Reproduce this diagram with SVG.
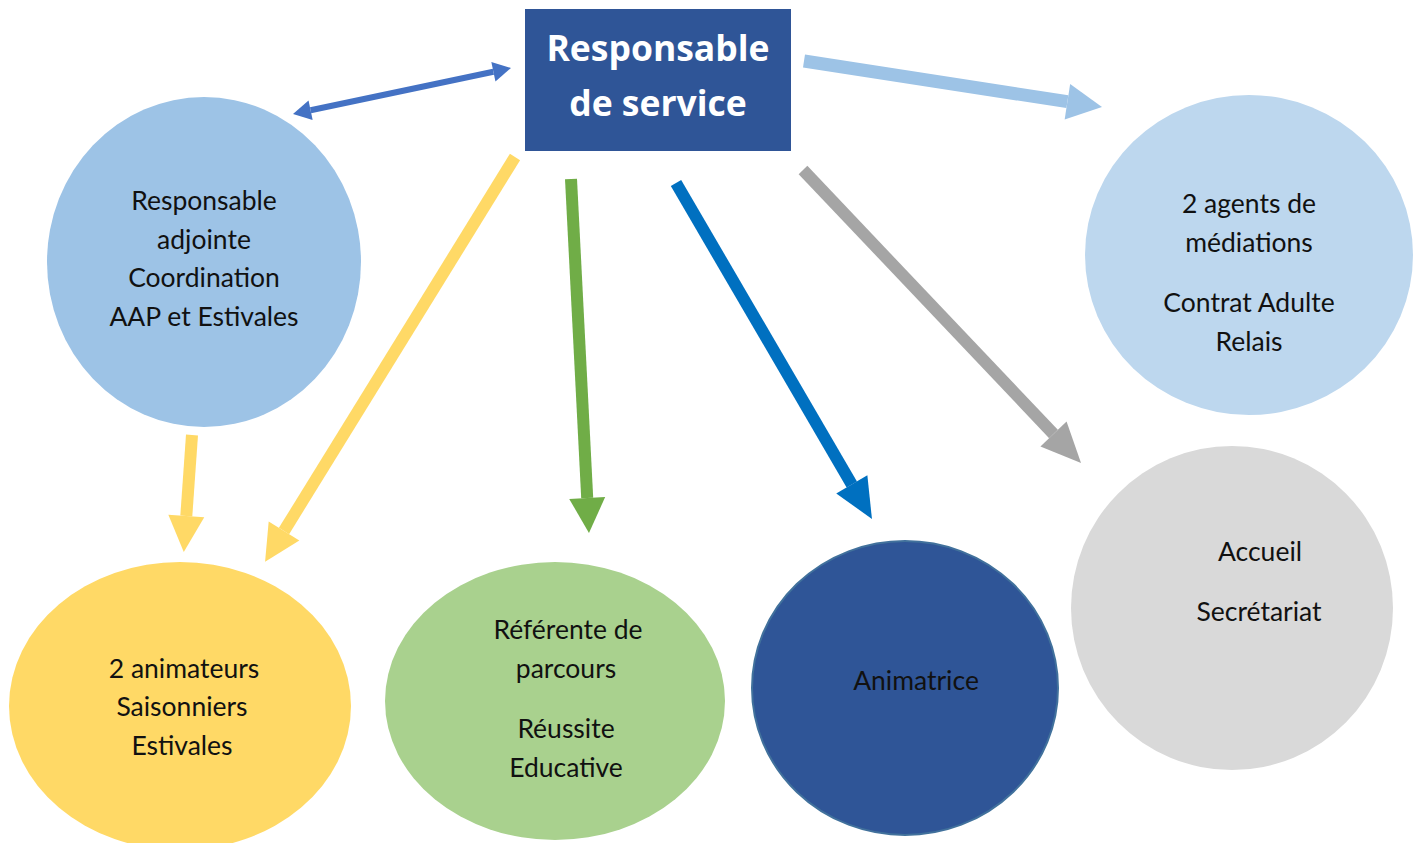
<svg xmlns="http://www.w3.org/2000/svg" width="1419" height="843" viewBox="0 0 1419 843">
<style>
.t{font-family:Lato,"Open Sans","Liberation Sans",sans-serif;font-size:26.5px;fill:#111;text-anchor:middle}
.h{font-family:"Open Sans",Lato,"Liberation Sans",sans-serif;font-size:35.5px;font-weight:bold;fill:#fff;text-anchor:middle}
.c{fill:none;stroke-linecap:butt}
</style>
<defs>
<marker id="mB" markerUnits="userSpaceOnUse" markerWidth="40" markerHeight="40" refX="0" refY="0" orient="auto-start-reverse" overflow="visible"><path d="M0,-10 L18,0 L0,10 Z" fill="#4472C4"/></marker>
<marker id="mL" markerUnits="userSpaceOnUse" markerWidth="40" markerHeight="40" refX="0" refY="0" orient="auto" overflow="visible"><path d="M0,-18 L35,0 L0,18 Z" fill="#9DC3E6"/></marker>
<marker id="mY" markerUnits="userSpaceOnUse" markerWidth="40" markerHeight="40" refX="0" refY="0" orient="auto" overflow="visible"><path d="M0,-18 L36,0 L0,18 Z" fill="#FFD966"/></marker>
<marker id="mG" markerUnits="userSpaceOnUse" markerWidth="40" markerHeight="40" refX="0" refY="0" orient="auto" overflow="visible"><path d="M0,-18 L35,0 L0,18 Z" fill="#70AD47"/></marker>
<marker id="mD" markerUnits="userSpaceOnUse" markerWidth="40" markerHeight="40" refX="0" refY="0" orient="auto" overflow="visible"><path d="M0,-18 L40,0 L0,18 Z" fill="#0070C0"/></marker>
<marker id="mA" markerUnits="userSpaceOnUse" markerWidth="40" markerHeight="40" refX="0" refY="0" orient="auto" overflow="visible"><path d="M0,-18 L40,0 L0,18 Z" fill="#A5A5A5"/></marker>
</defs>
<rect width="1419" height="843" fill="#fff"/>

<g id="n-adjointe">
<ellipse cx="204" cy="262" rx="157" ry="165" fill="#9DC3E6"/>
<text class="t" x="204" y="210">Responsable</text>
<text class="t" x="204" y="249">adjointe</text>
<text class="t" x="204" y="287">Coordination</text>
<text class="t" x="204" y="326">AAP et Estivales</text>
</g>
<g id="n-mediation">
<ellipse cx="1249" cy="255" rx="164" ry="160" fill="#BDD7EE"/>
<text class="t" x="1249" y="213">2 agents de</text>
<text class="t" x="1249" y="252">médiations</text>
<text class="t" x="1249" y="312">Contrat Adulte</text>
<text class="t" x="1249" y="351">Relais</text>
</g>
<g id="n-accueil">
<ellipse cx="1232" cy="608" rx="161" ry="162" fill="#D9D9D9"/>
<text class="t" x="1260" y="561">Accueil</text>
<text class="t" x="1259" y="621">Secrétariat</text>
</g>
<g id="n-animateurs">
<ellipse cx="180" cy="706" rx="171" ry="144" fill="#FFD966"/>
<text class="t" x="184" y="678">2 animateurs</text>
<text class="t" x="182" y="716">Saisonniers</text>
<text class="t" x="182" y="755">Estivales</text>
</g>
<g id="n-referente">
<ellipse cx="555" cy="701" rx="170" ry="139" fill="#A9D18E"/>
<text class="t" x="568" y="639">Référente de</text>
<text class="t" x="566" y="678">parcours</text>
<text class="t" x="566" y="738">Réussite</text>
<text class="t" x="566" y="777">Educative</text>
</g>
<g id="n-animatrice">
<ellipse cx="905" cy="688" rx="153" ry="147" fill="#2F5597" stroke="#41719C" stroke-width="2"/>
<text class="t" x="916" y="690">Animatrice</text>
</g>
<g id="n-responsable">
<rect x="525" y="9" width="266" height="142" fill="#2F5597"/>
<text class="h" x="658" y="61">Responsable</text>
<text class="h" x="658" y="116">de service</text>
</g>

<g id="connectors">
<line class="c" x1="310.6" y1="110.3" x2="493.4" y2="71.7" stroke="#4472C4" stroke-width="6" marker-start="url(#mB)" marker-end="url(#mB)"/>
<line class="c" x1="804" y1="61" x2="1067.4" y2="101.7" stroke="#9DC3E6" stroke-width="13" marker-end="url(#mL)"/>
<line class="c" x1="192" y1="435" x2="186.3" y2="516" stroke="#FFD966" stroke-width="12" marker-end="url(#mY)"/>
<line class="c" x1="515" y1="157" x2="284" y2="531" stroke="#FFD966" stroke-width="12" marker-end="url(#mY)"/>
<line class="c" x1="571" y1="179" x2="587.2" y2="498" stroke="#70AD47" stroke-width="12" marker-end="url(#mG)"/>
<line class="c" x1="676" y1="183" x2="851.8" y2="484.4" stroke="#0070C0" stroke-width="12" marker-end="url(#mD)"/>
<line class="c" x1="803" y1="170" x2="1053.5" y2="434" stroke="#A5A5A5" stroke-width="12" marker-end="url(#mA)"/>
</g>
</svg>
